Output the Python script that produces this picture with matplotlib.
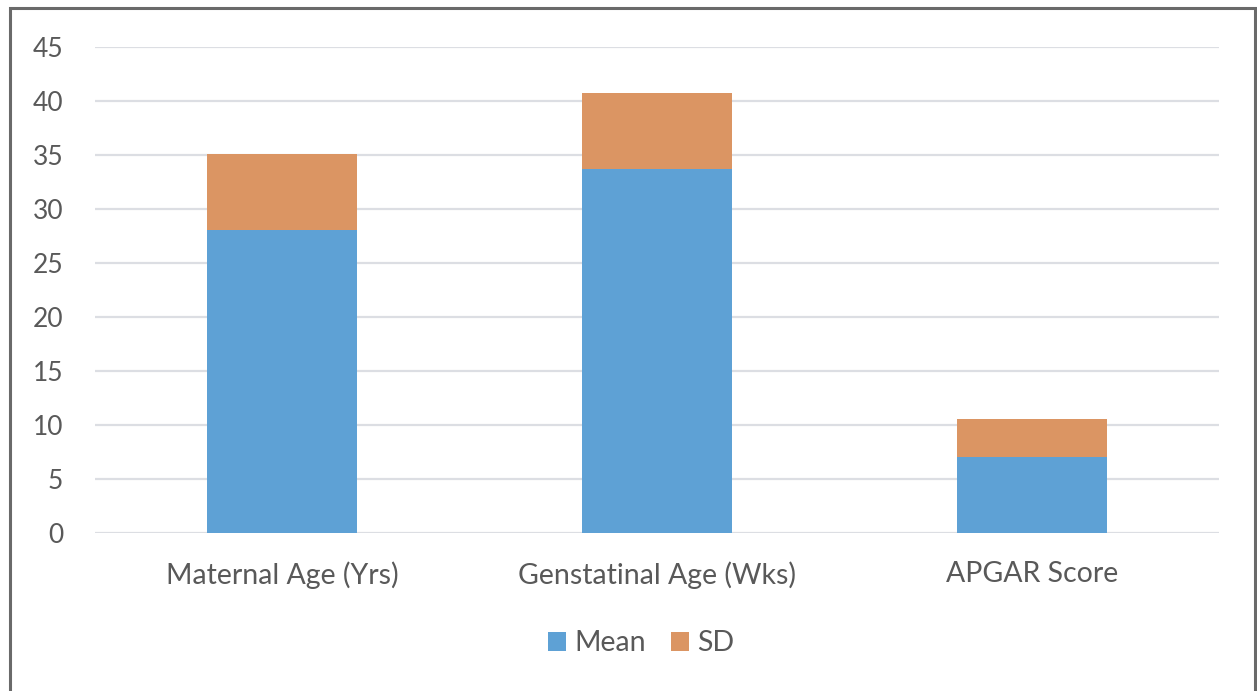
import matplotlib.pyplot as plt
from matplotlib.patches import Rectangle
import numpy as np

categories = ['Maternal Age (Yrs)', 'Genstatinal Age (Wks)', 'APGAR Score']
mean_vals = [28.1, 33.7, 7.1]
sd_vals = [7.0, 7.0, 3.45]

blue = '#5EA1D5'
orange = '#DB9563'
text_gray = '#595959'

plt.rcParams['font.family'] = ['Lato', 'DejaVu Sans']

fig = plt.figure(figsize=(12.57, 6.91), dpi=100)
ax = fig.add_axes([0.0756, 0.2282, 0.8942, 0.7038])

x = np.arange(len(categories))
ax.bar(x, mean_vals, width=0.4, color=blue, label='Mean', zorder=3)
ax.bar(x, sd_vals, width=0.4, bottom=mean_vals, color=orange, label='SD', zorder=3)

ax.set_xlim(-0.5, len(categories) - 0.5)
ax.set_ylim(0, 45)
ax.set_yticks(range(0, 50, 5))
ax.set_xticks(x)
ax.set_xticklabels(categories)
ax.tick_params(axis='y', length=0, pad=23, labelsize=19, labelcolor=text_gray)
ax.tick_params(axis='x', length=0, pad=20, labelsize=20.5, labelcolor=text_gray)
ax.grid(axis='y', color='#DCDEE3', linewidth=1.6, zorder=0)
for side in ['top', 'right', 'left', 'bottom']:
    ax.spines[side].set_visible(False)

ax.legend(loc='center', bbox_to_anchor=(0.486, -0.226), ncol=2, frameon=False,
          fontsize=20.5, labelcolor=text_gray, handlelength=0.63, handleheight=0.63,
          handletextpad=0.3, columnspacing=0.85)

# outer frame around the chart
fig.patches.append(Rectangle((10 / 1257, -0.05), 1245 / 1257, 1.05 - 8 / 691,
                             transform=fig.transFigure, fill=False,
                             edgecolor='#6A6A6A', linewidth=2.2))

fig.savefig('out.png', dpi=100)
